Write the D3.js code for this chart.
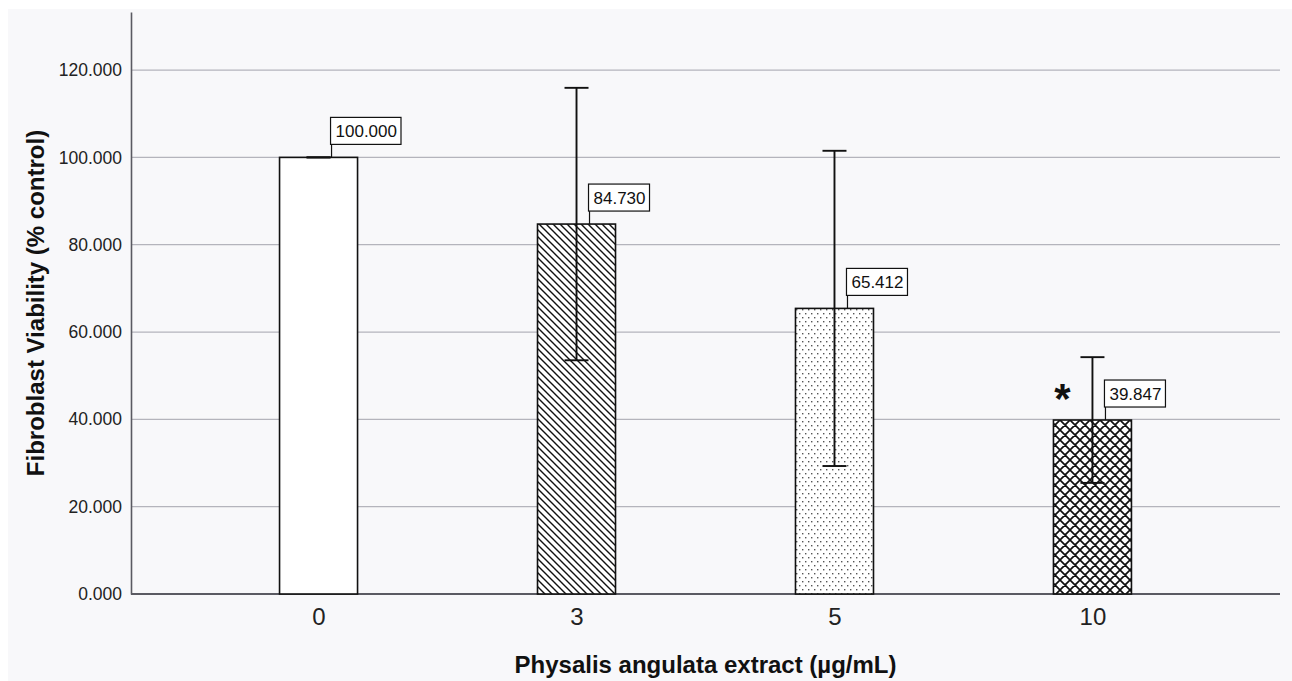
<!DOCTYPE html>
<html lang="en">
<head>
  <meta charset="utf-8">
  <title>Fibroblast Viability</title>
  <script src="https://cdnjs.cloudflare.com/ajax/libs/d3/7.8.5/d3.min.js"></script>
  <style>
    body { margin: 0; background: #fff; }
    text { font-family: "Liberation Sans", Arial, sans-serif; }
  </style>
</head>
<body>
<div id="ChartArea"></div>
<script>
// data
const doses = ["0", "3", "5", "10"];
const viability = [100.000, 84.730, 65.412, 39.847];
const errors = [0, 31.2, 36.1, 14.4];
const signif = ["", "", "", "*"];
const fills = ["white", "url(#hatch)", "url(#dots)", "url(#cross)"];
const yTicks = [0, 20, 40, 60, 80, 100, 120];

const W = 1292, H = 681;
const margin = {top: 12, right: 12, bottom: 87, left: 131};

const svg = d3.select("#ChartArea").append("svg")
    .attr("width", W)
    .attr("height", H);

// light panel behind everything
svg.append("rect")
    .attr("x", 8).attr("y", 9)
    .attr("width", W - 8).attr("height", H - 9)
    .attr("fill", "#f8f8fa");

const x = d3.scalePoint()
    .domain(doses)
    .range([margin.left, W - margin.right])
    .padding(0.727);

const y = d3.scaleLinear()
    .domain([0, 133.3])
    .range([H - margin.bottom, margin.top]);

const barW = 78;

// patterns
const defs = svg.append("defs");

const p1 = defs.append("pattern")
    .attr("id", "hatch").attr("patternUnits", "userSpaceOnUse")
    .attr("width", 7).attr("height", 7);
p1.append("rect").attr("width", 7).attr("height", 7).attr("fill", "white");
p1.append("path")
    .attr("d", "M0,0 L7,7 M-1,6 L1,8 M6,-1 L8,1")
    .attr("stroke", "#111").attr("stroke-width", 1.4);

const p2 = defs.append("pattern")
    .attr("id", "dots").attr("patternUnits", "userSpaceOnUse")
    .attr("width", 6).attr("height", 8);
p2.append("rect").attr("width", 6).attr("height", 8).attr("fill", "white");
p2.append("rect").attr("x", 1).attr("y", 1).attr("width", 1.4).attr("height", 1.4).attr("fill", "#555");
p2.append("rect").attr("x", 4).attr("y", 5).attr("width", 1.4).attr("height", 1.4).attr("fill", "#555");

const p3 = defs.append("pattern")
    .attr("id", "cross").attr("patternUnits", "userSpaceOnUse")
    .attr("width", 10).attr("height", 10);
p3.append("rect").attr("width", 10).attr("height", 10).attr("fill", "white");
p3.append("path")
    .attr("d", "M0,0 L10,10 M10,0 L0,10 M-1,9 L1,11 M9,-1 L11,1 M-1,1 L1,-1 M9,11 L11,9")
    .attr("stroke", "#111").attr("stroke-width", 1.7);

// gridlines
svg.append("g")
    .selectAll("line")
    .data(yTicks.slice(1))
    .enter().append("line")
    .attr("x1", margin.left).attr("x2", W - margin.right)
    .attr("y1", d => y(d)).attr("y2", d => y(d))
    .attr("stroke", "#b4b4bc").attr("stroke-width", 1.2);

// y axis
const yAxis = svg.append("g")
    .attr("transform", "translate(" + margin.left + ",0)")
    .call(d3.axisLeft(y).tickValues(yTicks).tickFormat(d3.format(".3f")).tickSize(0).tickPadding(9));
yAxis.select(".domain").attr("stroke", "#5a5a62").attr("stroke-width", 1.6);
yAxis.selectAll("text").attr("font-size", 17.5).attr("fill", "#222")
    .style("font-family", "'Liberation Sans', Arial, sans-serif");

// x axis
const xAxis = svg.append("g")
    .attr("transform", "translate(0," + y(0) + ")")
    .call(d3.axisBottom(x).tickSize(0).tickPadding(14));
xAxis.select(".domain").attr("stroke", "#5a5a62").attr("stroke-width", 2)
    .attr("d", "M" + margin.left + ",0H" + (W - margin.right));
xAxis.selectAll("text").attr("font-size", 24).attr("fill", "#222")
    .style("font-family", "'Liberation Sans', Arial, sans-serif");

// bars
svg.selectAll(".bar")
    .data(doses)
    .enter().append("rect")
    .attr("class", "bar")
    .attr("x", d => x(d) - barW / 2)
    .attr("y", (d, i) => y(viability[i]))
    .attr("width", barW)
    .attr("height", (d, i) => y(0) - y(viability[i]))
    .attr("fill", (d, i) => fills[i])
    .attr("stroke", "#111")
    .attr("stroke-width", 1.6);

// error bars
const capW = 24;
const eb = svg.append("g").attr("stroke", "#111").attr("stroke-width", 1.9);
doses.forEach((d, i) => {
  const cx = x(d);
  const hi = y(viability[i] + errors[i]);
  const lo = y(viability[i] - errors[i]);
  eb.append("line").attr("x1", cx).attr("x2", cx).attr("y1", hi).attr("y2", lo);
  eb.append("line").attr("x1", cx - capW / 2).attr("x2", cx + capW / 2).attr("y1", hi).attr("y2", hi);
  eb.append("line").attr("x1", cx - capW / 2).attr("x2", cx + capW / 2).attr("y1", lo).attr("y2", lo);
});

// value labels in boxes
doses.forEach((d, i) => {
  const lx = x(d) + 13;
  const top = y(viability[i]);
  const g = svg.append("g");
  g.append("line")
      .attr("x1", lx).attr("x2", lx)
      .attr("y1", top).attr("y2", top - 13)
      .attr("stroke", "#111").attr("stroke-width", 1.2);
  const t = g.append("text")
      .attr("x", lx + 4).attr("y", top - 20)
      .attr("font-size", 17).attr("fill", "#111")
      .text(d3.format(".3f")(viability[i]));
  const bb = t.node().getBBox();
  g.insert("rect", "text")
      .attr("x", lx - 1).attr("y", top - 40)
      .attr("width", bb.width + 9).attr("height", 27)
      .attr("fill", "white").attr("stroke", "#111").attr("stroke-width", 1.2);
});

// significance marks
svg.selectAll(".sig")
    .data(doses)
    .enter().append("text")
    .attr("class", "sig")
    .attr("x", d => x(d) - 30)
    .attr("y", (d, i) => y(viability[i]) - 7)
    .attr("text-anchor", "middle")
    .attr("font-size", 42).attr("font-weight", "bold").attr("fill", "#111")
    .text((d, i) => signif[i]);

// axis titles
svg.append("text")
    .attr("transform", "translate(44," + ((y(0) + margin.top) / 2) + ") rotate(-90)")
    .attr("text-anchor", "middle")
    .attr("font-size", 24).attr("font-weight", "bold").attr("fill", "#111")
    .text("Fibroblast Viability (% control)");

svg.append("text")
    .attr("x", (margin.left + W - margin.right) / 2)
    .attr("y", 673)
    .attr("text-anchor", "middle")
    .attr("font-size", 24).attr("font-weight", "bold").attr("fill", "#111")
    .text("Physalis angulata extract (µg/mL)");
</script>
</body>
</html>
